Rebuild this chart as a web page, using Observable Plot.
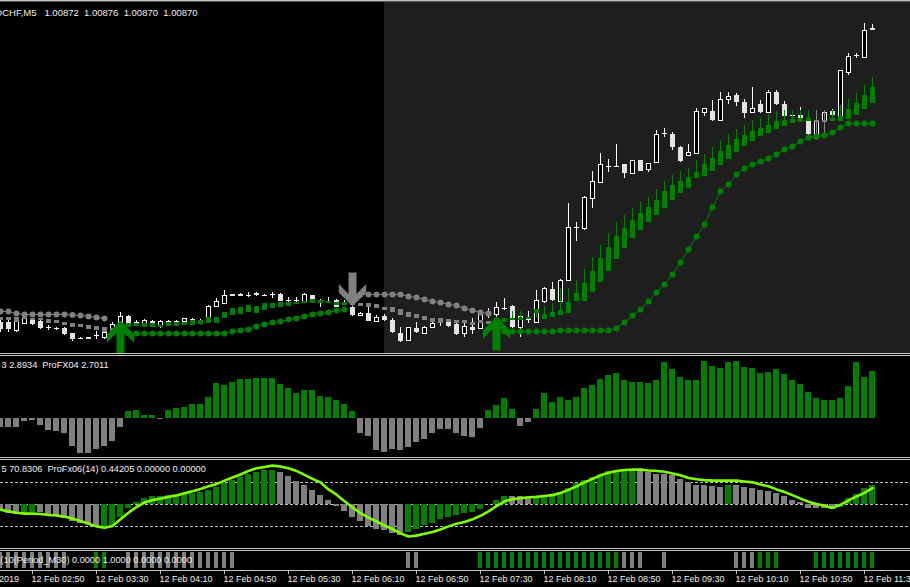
<!DOCTYPE html>
<html><head><meta charset="utf-8">
<script src="https://cdn.jsdelivr.net/npm/d3@7"></script>
<script src="https://cdn.jsdelivr.net/npm/@observablehq/plot@0.6"></script>
<style>
html,body{margin:0;padding:0;background:#000;}
#chart{position:relative;width:910px;height:587px;overflow:hidden;background:#000;}
#chart svg{position:absolute;left:0;overflow:hidden;}
.sep{position:absolute;left:0;width:910px;height:1px;background:#c8c8c8;}
</style></head>
<body><div id="chart"></div>
<script>
// ---------------- DATA ----------------
// USDCHF M5, bars from 12 Feb 02:30; prices in points above 1.00000 (1 pt = 0.00001)
const startTime = "02:30";
const _ = null;
const openPts = [578,578,570,577,580,579,573,572,572,567,
 563,563,565,563,567,577,584,578,576,579,
 573.5,579,579.5,578.5,581.5,580.5,580,594,597,606,
 606.5,605.5,607,606,605.5,606,600,600,598,605,
 598.5,599,600,597.5,593,585,587,579,584,580,
 567,560,572,567,573,578,578,576,567,573,
 572,585,586,592.5,594,573,581,578,599,611,
 599,620,674,672,702,718,734.5,734.3,736,727,
 740,731,738,767.5,766,753,745,747,787.5,789,
 780,801,805,798,788,796,788,808,796,785,
 785,782,762,779,789,784,828,845,843,872];
const highPts = [582,583,582,583,582,582,575,573,573,567,
 563.5,563.5,569,569,578,588,585,580.5,581,580,
 580,580,580,582,582,581,595,602,610,606.5,
 607,608,608,606.5,608,607,603,603,607,605.5,
 600.7,603,601,600,595,588,593,585,586,582,
 572.7,573.3,578,574.5,579,580.7,580,577,580,582,
 586,592,598,601.7,595,585,589,610,613,618,
 621,697,678,704,729,747,741,756,736,740.5,
 740,737,770,771.7,768,754,756,792,792,800,
 808,808,807,801,813,800,810,810,799,790,
 793,783,789,790,791,830,847,847,877,876];
const lowPts = [568,568,568,577,575,571,570,570,565,559,
 561.5,561,561,561.5,565,576,577,575,575,573,
 572.5,575,575,577,579,578,579,593,597,604,
 604,603,604.5,604.5,602.5,599,597,597,598,599,
 593,597,593,595,584,584.5,579,578,579,567,
 558.3,559.5,567,567,573,574,573,565.5,563,566,
 571.5,582,583,590,572,563,577,577,597,599,
 599,619,659,670,692,717,728,733,722,726,
 729,728,738,762.7,750,738,744,746,784,779.5,
 779,796,794,782,788,787,788,795.5,782,780,
 781.5,765.5,760,765,785,784,825,842,843,870];
const closePts = [571,571,580,582,576,572,572.5,571.5,566,561,
 562,561.5,564.5,568,576,584,577,578.5,580,574,
 578.5,579.5,579,581.5,579,578.5,594,599,605,604.5,
 604.5,605.5,605,604.7,605.7,599,600,599.7,606,599,
 598,599.3,593,597.7,585,587,579,583,580,568,
 559,573,568,573,577,577.5,574,566,574,570,
 585.5,588,593,592,573,584,580.5,600,612,600,
 620,673,673,703,719,736,734,734,727,740,
 729,737,766,767,753,739,748,789,791.7,780,
 801,804,798,787,792,788,808,796,784,784.5,
 782,766,780,788,785,830,844,844.7,870,870];

// trend candles (green = up, gray = down), same point units
const trendOpen = [583,583,583,583,582,582,581,580,578,577,
 576,575,574,573,572,572,573,574,573,573,
 573,574,574,575,575,576,577,577,582,585,
 586,588,587,590,592,593,594,596,597,597,
 597,597,595,595,599,597,597,596,593,593,
 591,588,586,584,582,582,581,580,580,578,
 580,579,579,578,580,580,581,587,581,583,
 585,587,599,599,608,618,629,641,652,662,
 670,678,685,692,700,707,712,722,724,729,
 735,741,748,754,759,764,767,771,774,777,
 778,779,780.5,780.5,779,779,781,785,791,797];
const trendClose = [580,580,578,581,580,580,577,577,575,573,
 573,571,570,568,567,575,577,577,577,577,
 575,578,578,578,580,580,583,583,588,592,
 593,595,594,597,597,598,598,598,599,601,
 600,599,598,598,595,594,593,592,590,588,
 585,583,582,580,578,577,578,577,577,575,
 577,576,582,582,582,582,583,591,586,588,
 590,598,607,617,629,642,653,664,672,680,
 687,693,700,709,715,719,723,728,736,742,
 749,755,761,765,769,772,775,779,780,781,
 782,782,779.5,779.5,782,784,791,797,805,813];
const trendHigh = [583,583,583,583,582,582,581,580,578,577,
 576,575,574,573,572,575,577,577,577,577,
 575,578,578,578,580,580,583,583,588,592,
 593,595,594,597,597,598,598,598,599,601,
 600,599,598,598,599,597,597,596,593,593,
 591,588,586,584,582,582,581,580,580,578,
 580,579,582,582,589,589,583,591,594,597,
 612,612,620,631,643,656,667,678,685,692,
 698,703,711,719,725,729,732,740,746,753,
 760,766,771,775,780,782,786,789,790,790,
 790,790,790,790,790,795,801,807,816,823];
const trendLow = [580,580,578,581,580,580,577,577,575,573,
 573,571,570,568,567,572,573,574,573,573,
 573,574,574,575,575,575,577,577,582,585,
 586,588,587,590,592,593,594,596,597,597,
 597,597,595,595,595,594,593,592,590,588,
 585,583,582,580,578,577,578,577,577,575,
 577,576,579,578,580,580,581,583,581,583,
 585,587,599,599,608,618,629,641,652,662,
 670,678,685,692,700,707,712,722,724,729,
 735,741,748,754,759,764,767,771,774,777,
 778,779,760,765,779,779,781,785,791,797];

// trailing stop dots
const stopSell = [589,589,587,586,586,586,586,586,586,585.5,
 585,584,583,582,_,_,_,_,_,_,
 _,_,_,_,_,_,_,_,_,_,
 _,_,_,_,_,_,_,_,_,_,
 _,_,_,_,606,606,606,606,606,606,
 606,604,603,601,599,598,596,595,592,590,
 588,587,_,_,_,_,_,_,_,_,
 _,_,_,_,_,_,_,_,_,_,
 _,_,_,_,_,_,_,_,_,_,
 _,_,_,_,_,_,_,_,_,_,
 _,_,_,_,_,_,_,_,_,_];
const stopBuy = [_,_,_,_,_,_,_,_,_,_,
 _,_,_,_,_,567,567,567,567,567,
 567,567,567,567,567,567,567,567,567,569,
 570,571,574,576,578,579,581,582,584,586,
 587,588,590,591,_,_,_,_,_,_,
 _,_,_,_,_,_,_,_,_,_,
 _,_,569,569,569,569,569,569,569,569,
 570,570,570,570,570,570,570,572,578,585,
 591,599,608,616,626,638,651,664,676,693,
 709,716,726,732,736,739,742,746,751,754,
 759,763,764,765,768,773,777,777,777,777];

// signal arrows: bar index and tip level (points)
const buyArrows = [{bar: 15, tip: 580}, {bar: 62, tip: 584}];
const sellArrows = [{bar: 44, tip: 594}];
const sessionBox = ["06:30", "12:00"];

// ProFX04 histogram
const fx04 = [-0.47,-0.47,-0.47,-0.13,-0.10,-0.38,-0.67,-0.73,-0.86,-1.56,
 -1.96,-1.96,-1.75,-1.56,-1.27,-0.47,0.44,0.47,0.19,0.19,
 -0.06,0.47,0.61,0.65,0.82,0.82,1.22,2.02,1.90,2.07,
 2.23,2.23,2.28,2.28,2.28,1.96,1.71,1.47,1.60,1.60,
 1.27,1.20,1.05,0.84,0.42,-0.82,-1.01,-1.81,-1.90,-1.75,
 -1.81,-1.62,-1.33,-1.20,-0.86,-0.63,-0.63,-0.86,-0.99,-1.05,
 -0.57,0.47,0.76,1.14,0.51,-0.44,-0.23,0.53,1.44,0.93,
 1.22,1.05,1.22,1.73,1.90,2.24,2.47,2.57,2.19,2.07,
 2.07,2.00,2.19,3.21,2.82,2.36,2.19,2.19,3.27,2.99,
 2.87,3.21,3.27,2.93,2.87,2.59,2.64,2.82,2.53,2.19,
 1.96,1.50,1.16,1.05,1.05,1.16,1.84,3.21,2.36,2.70];

// ProFx06(14) histogram + signal line
const fx06Hist = [-0.13,-0.20,-0.23,-0.19,-0.17,-0.18,-0.23,-0.26,-0.32,-0.39,
 -0.43,-0.45,-0.49,-0.51,-0.49,-0.28,-0.08,0.05,0.15,0.18,
 0.20,0.21,0.23,0.24,0.25,0.27,0.33,0.39,0.48,0.55,
 0.61,0.70,0.73,0.78,0.78,0.74,0.65,0.53,0.44,0.33,
 0.21,0.10,-0.03,-0.15,-0.28,-0.39,-0.49,-0.55,-0.58,-0.66,
 -0.70,-0.62,-0.56,-0.48,-0.43,-0.34,-0.28,-0.24,-0.20,-0.17,
 -0.11,0.01,0.09,0.20,0.18,0.18,0.15,0.18,0.21,0.23,
 0.29,0.36,0.48,0.55,0.63,0.70,0.76,0.78,0.78,0.78,
 0.76,0.73,0.70,0.70,0.67,0.58,0.50,0.45,0.44,0.42,
 0.40,0.44,0.44,0.39,0.36,0.33,0.30,0.25,0.18,0.10,
 0.06,-0.08,-0.09,-0.09,-0.11,-0.05,0.14,0.23,0.36,0.44];
const fx06Line = [-0.11,-0.15,-0.18,-0.20,-0.20,-0.21,-0.23,-0.24,-0.27,-0.31,
 -0.37,-0.43,-0.49,-0.52,-0.48,-0.33,-0.18,-0.05,0.05,0.11,
 0.14,0.18,0.21,0.26,0.31,0.36,0.42,0.47,0.55,0.62,
 0.69,0.77,0.83,0.86,0.89,0.87,0.83,0.77,0.68,0.59,
 0.51,0.35,0.23,0.08,-0.06,-0.19,-0.29,-0.38,-0.47,-0.55,
 -0.65,-0.72,-0.70,-0.66,-0.62,-0.56,-0.49,-0.43,-0.39,-0.33,
 -0.25,-0.15,-0.03,0.08,0.13,0.15,0.17,0.18,0.20,0.22,
 0.27,0.34,0.42,0.51,0.59,0.67,0.73,0.77,0.79,0.80,
 0.80,0.78,0.77,0.75,0.71,0.67,0.61,0.58,0.56,0.55,
 0.55,0.55,0.55,0.53,0.51,0.46,0.42,0.35,0.29,0.22,
 0.14,0.07,0.02,-0.02,-0.07,0.00,0.10,0.19,0.27,0.38];
const fx06Levels = [0.5, 0, -0.5];
// histogram colour state, run-length: [state, bars]
const fx06Runs = [["dn",3],["up",2],["dn",8],["up",22],["dn",16],["up",13],["dn",3],["up",13],["dn",11],["up",1],["dn",13],["up",5]];
// M30 signal bars, run-length ("" = no bar)
const fx07Runs = [["dn",9],["",3],["up",2],["",2],["dn",14],["",21],["dn",2],["",7],["up",18],["dn",3],["",2],["dn",1],["",8],["dn",3],["up",3],["",4],["up",8]];

const headerLabel = "USDCHF,M5\u00a0\u00a0\u00a01.00872\u00a0 1.00876\u00a0 1.00870\u00a0 1.00870";
const fx04Label = "3 2.8934\u00a0\u00a0ProFX04 2.7011";
const fx06Label = "5 70.8306\u00a0\u00a0ProFx06(14) 0.44205 0.00000 0.00000";
const fx07Label = "(10(Period_M30) 0.0000 1.0000 0.0000 0.0000";
const firstDateLabel = "12 Feb 2019";
const tickLabels = ["12 Feb 02:50","12 Feb 03:30","12 Feb 04:10","12 Feb 04:50","12 Feb 05:30","12 Feb 06:10","12 Feb 06:50",
 "12 Feb 07:30","12 Feb 08:10","12 Feb 08:50","12 Feb 09:30","12 Feb 10:10","12 Feb 10:50","12 Feb 11:30"];

// ---------------- BUILD ----------------
const GREEN = "#008000", GRAY = "#808080", LIME = "#80ff00", TXT = "#f0f0f0";
const FONT = "'Liberation Sans', Arial, sans-serif";
const toMin = t => { const [h, m] = t.split(":").map(Number); return h * 60 + m; };
const barOf = t => (toMin(t) - toMin(startTime)) / 5;
const price = v => v == null ? undefined : 1 + v / 1e5;
const expand = runs => runs.flatMap(([s, n]) => Array(n).fill(s));
const col = s => s === "up" ? GREEN : GRAY;
const N = openPts.length;

const bars = d3.range(N).map(i => ({i, o: price(openPts[i]), h: price(highPts[i]), l: price(lowPts[i]), c: price(closePts[i]),
  to: price(trendOpen[i]), tc: price(trendClose[i]), th: price(trendHigh[i]), tl: price(trendLow[i]),
  sb: price(stopBuy[i]), ss: price(stopSell[i])}));
const dojis = bars.filter(d => Math.abs(closePts[d.i] - openPts[d.i]) < 1.5);
const bodies = bars.filter(d => Math.abs(closePts[d.i] - openPts[d.i]) >= 1.5);
const bull = bodies.filter(d => d.c > d.o), bear = bodies.filter(d => d.c < d.o);

const W = 910, PX_PER_BAR = 8;
const common = {width: W, marginTop: 0, marginRight: 0, marginBottom: 0, marginLeft: 0,
  x: {domain: [0, W / PX_PER_BAR], axis: null}, color: {type: "identity"},
  style: {background: "transparent", overflow: "hidden"}};
const txt = {fill: TXT, fontSize: 9, fontFamily: FONT, lineAnchor: "middle", textAnchor: "start"};
const crisp = {shapeRendering: "crispEdges"};

const upArrow = {draw(c) { c.moveTo(0,0); c.lineTo(13.7,14); c.lineTo(13.7,22.5); c.lineTo(4,12.5); c.lineTo(4,34);
  c.lineTo(-4,34); c.lineTo(-4,12.5); c.lineTo(-13.7,22.5); c.lineTo(-13.7,14); c.closePath(); }};
const downArrow = {draw(c) { c.moveTo(0,0); c.lineTo(13.7,-14); c.lineTo(13.7,-22.5); c.lineTo(4,-12.5); c.lineTo(4,-34);
  c.lineTo(-4,-34); c.lineTo(-4,-12.5); c.lineTo(-13.7,-22.5); c.lineTo(-13.7,-14); c.closePath(); }};

const ctx = document.createElement("canvas").getContext("2d");
ctx.font = "9.5px 'Liberation Sans'";
const headerDx = 1.7 - ctx.measureText("USD").width;

const main = Plot.plot({...common, height: 351, y: {domain: [price(547), price(898)], axis: null},
  marks: [
    Plot.rect([sessionBox], {x1: d => barOf(d[0]), x2: d => barOf(d[1]), fill: "#1e1e1e"}),
    Plot.ruleX(bars, {x: "i", y1: "l", y2: "h", stroke: "#ffffff", ...crisp}),
    Plot.rect(bear, {x1: d => d.i - 0.3125, x2: d => d.i + 0.3125, y1: "o", y2: "c", fill: "#e4e4e4", ...crisp}),
    Plot.rect(bull, {x1: d => d.i - 0.25, x2: d => d.i + 0.25, y1: "o", y2: "c", fill: "#000", stroke: "#ffffff", ...crisp}),
    Plot.ruleY(dojis, {y: d => (d.o + d.c) / 2, x1: d => d.i - 0.3125, x2: d => d.i + 0.3125, stroke: "#ffffff", ...crisp}),
    Plot.ruleX(bars, {x: "i", y1: "tl", y2: "th", stroke: d => d.tc > d.to ? GREEN : GRAY, ...crisp}),
    Plot.rect(bars, {x1: d => d.i - 0.3125, x2: d => d.i + 0.3125, y1: "to", y2: "tc", fill: d => d.tc > d.to ? GREEN : GRAY, ...crisp}),
    Plot.ruleY(bars.filter(d => Math.abs(trendClose[d.i] - trendOpen[d.i]) < 1.5), {y: "tc", x1: d => d.i - 0.3125, x2: d => d.i + 0.3125, stroke: GRAY, ...crisp}),
    Plot.line(bars, {x: "i", y: "ss", stroke: GRAY, strokeWidth: 1}),
    Plot.dot(bars.filter(d => d.ss !== undefined), {x: "i", y: "ss", r: 3, fill: GRAY, stroke: "none"}),
    Plot.line(bars, {x: "i", y: "sb", stroke: GREEN, strokeWidth: 1}),
    Plot.dot(bars.filter(d => d.sb !== undefined), {x: "i", y: "sb", r: 3, fill: GREEN, stroke: "none"}),
    Plot.dot(buyArrows, {x: "bar", y: d => price(d.tip), symbol: upArrow, r: 10, fill: GREEN, stroke: "none"}),
    Plot.dot(sellArrows, {x: "bar", y: d => price(d.tip), symbol: downArrow, r: 10, fill: GRAY, stroke: "none"}),
    Plot.text([headerLabel], {frameAnchor: "top-left", dx: headerDx, dy: 10.1, text: d => d, ...txt, fontSize: 9.5})
  ]});

const p2 = fx04.map((v, i) => ({i, v}));
const panel2 = Plot.plot({...common, height: 101, y: {domain: [-2.210, 3.557], axis: null},
  marks: [
    Plot.rect(p2, {x1: d => d.i - 0.42, x2: d => d.i + 0.42, y1: 0, y2: "v", fill: d => d.v >= 0 ? GREEN : GRAY, ...crisp}),
    Plot.text([fx04Label], {frameAnchor: "top-left", dx: 1, dy: 8.8, text: d => d, ...txt, fontSize: 9.2})
  ]});

const c3 = expand(fx06Runs);
const p3 = fx06Hist.map((v, i) => ({i, v, s: fx06Line[i], c: c3[i]}));
const panel3 = Plot.plot({...common, height: 88, y: {domain: [-0.993, 1.0068], axis: null},
  marks: [
    Plot.ruleY(fx06Levels, {stroke: "#c0c0c0", strokeDasharray: "3,2", ...crisp}),
    Plot.rect(p3, {x1: d => d.i - 0.42, x2: d => d.i + 0.42, y1: 0, y2: "v", fill: d => col(d.c), ...crisp}),
    Plot.line(p3, {x: "i", y: "s", stroke: LIME, strokeWidth: 2.6}),
    Plot.text([fx06Label], {frameAnchor: "top-left", dx: 1, dy: 8.8, text: d => d, ...txt, fontSize: 9.2})
  ]});

const s4 = expand(fx07Runs);
const p4 = s4.map((s, i) => ({i, s})).filter(d => d.s);
const panel4 = Plot.plot({...common, height: 18, y: {domain: [-0.0625, 1.0625], axis: null},
  marks: [
    Plot.rect(p4, {x1: d => d.i - 0.3, x2: d => d.i + 0.3, y1: 0, y2: 1, fill: d => col(d.s), ...crisp}),
    Plot.text([fx07Label], {frameAnchor: "top-left", dx: 0, dy: 8.1, text: d => d, ...txt, fontSize: 9.2})
  ]});

const ticks = tickLabels.map(label => ({label, bar: barOf(label.slice(-5))}));
const axis = Plot.plot({...common, height: 18, y: {domain: [0, 18], range: [0, 18], axis: null},
  marks: [
    Plot.ruleY([0.5], {stroke: "#c8c8c8", ...crisp}),
    Plot.ruleX(ticks, {x: "bar", y1: 0.5, y2: 4.5, stroke: "#c8c8c8", ...crisp}),
    Plot.text(ticks, {x: "bar", y: 10.1, text: "label", dx: -1, ...txt}),
    Plot.text([firstDateLabel], {frameAnchor: "left", y: 10.1, text: d => d, dx: 18.5, ...txt, textAnchor: "end"})
  ]});

const chart = document.getElementById("chart");
const place = (el, top) => { el.style.top = top + "px"; el.style.position = "absolute"; chart.appendChild(el); };
place(main, 2); place(panel2, 356); place(panel3, 460); place(panel4, 551); place(axis, 569);
const sep = (top, color) => { const d = document.createElement("div"); d.className = "sep"; d.style.top = top + "px"; if (color) d.style.background = color; chart.appendChild(d); };
sep(0, "#c0c0c0"); sep(1, "#5a5a5a");
sep(353); sep(355); sep(457); sep(459); sep(548); sep(550);
</script>
</body></html>
